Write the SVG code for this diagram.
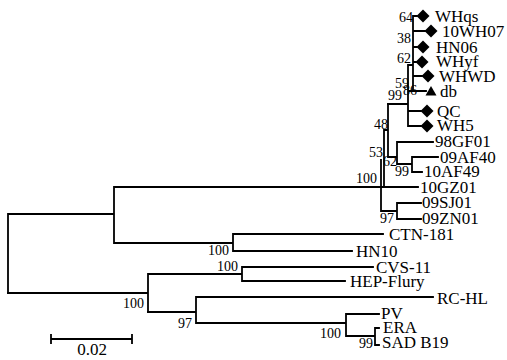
<svg xmlns="http://www.w3.org/2000/svg" width="507" height="360" viewBox="0 0 507 360">
<style>
.e{stroke:#000;stroke-width:1.8;fill:none;stroke-linecap:square}
.t{font-family:"Liberation Serif",serif;font-size:17px;fill:#000}
.b{font-family:"Liberation Serif",serif;font-size:14px;fill:#000}
.m{fill:#000}
</style>
<defs>
<path id="dia" d="M0,-6.5 L6.5,0 L0,6.5 L-6.5,0Z"/>
<path id="tri" d="M0,-5 L5.5,4.5 L-5.5,4.5Z"/>
</defs>
<rect width="507" height="360" fill="#fff"/>
<g id="connectors" class="e">
<path d="M8,214 V293 M8,214 H114 M114,187 V243 M114,187 H381 M114,243 H233 M233,234 V251 M233,234 H383 M233,251 H352"/>
<path d="M8,293 H148 M148,274 V312 M148,274 H242 M242,267 V281 M242,267 H373 M242,281 H345"/>
<path d="M148,312 H196 M196,297 V323 M196,297 H433 M196,323 H346 M346,314 V336 M346,314 H379 M346,336 H375 M375,328 V345 M375,328 H379 M375,345 H379"/>
<path d="M381,160 V211 M381,211 H397 M397,203 V219 M397,203 H421 M397,219 H421 M381,187 H418"/>
<path d="M384,130 V187 M384,130 H388 M388,104 V157 M388,157 H397 M397,142 V164 M397,142 H433 M397,164 H412 M412,157 V172 M412,157 H438 M412,172 H422"/>
<path d="M388,104 H408 M408,65 V126 M408,65 H413 M413,20 V90 M413,16 V20 M413,16 H417 M413,31 H425 M413,47 H417 M413,62 H416 M413,76 H422 M408,91 H426 M408,111 H421 M408,126 H421"/>
<path d="M51,339 H132 M51,335 V343 M132,335 V343"/>
</g>
<g id="support" class="b">
<text x="399" y="22">64</text>
<text x="397" y="43">38</text>
<text x="397" y="63">62</text>
<text x="395" y="88">59</text>
<text x="403" y="95">86</text>
<text x="388" y="100">99</text>
<text x="374" y="129">48</text>
<text x="369" y="157">53</text>
<text x="383" y="166">62</text>
<text x="395" y="176">99</text>
<text x="356" y="183">100</text>
<text x="380" y="223">97</text>
<text x="208" y="255">100</text>
<text x="217" y="271">100</text>
<text x="123" y="308">100</text>
<text x="178" y="328">97</text>
<text x="320" y="338">100</text>
<text x="359" y="348">99</text>
</g>
<g id="n-WHqs"><use href="#dia" x="423" y="16" class="m"/><text class="t" x="435" y="22">WHqs</text></g>
<g id="n-10WH07"><use href="#dia" x="431" y="31" class="m"/><text class="t" x="442" y="37">10WH07</text></g>
<g id="n-HN06"><use href="#dia" x="423" y="47" class="m"/><text class="t" x="436" y="53">HN06</text></g>
<g id="n-WHyf"><use href="#dia" x="422" y="62" class="m"/><text class="t" x="436" y="67">WHyf</text></g>
<g id="n-WHWD"><use href="#dia" x="428" y="76" class="m"/><text class="t" x="439" y="82">WHWD</text></g>
<g id="n-db"><use href="#tri" x="431" y="91" class="m"/><text class="t" x="440" y="97">db</text></g>
<g id="n-QC"><use href="#dia" x="427" y="111" class="m"/><text class="t" x="437" y="117">QC</text></g>
<g id="n-WH5"><use href="#dia" x="427" y="126" class="m"/><text class="t" x="437" y="131">WH5</text></g>
<g id="n-98GF01"><text class="t" x="435" y="147">98GF01</text></g>
<g id="n-09AF40"><text class="t" x="440" y="163">09AF40</text></g>
<g id="n-10AF49"><text class="t" x="424" y="177">10AF49</text></g>
<g id="n-10GZ01"><text class="t" x="420" y="193">10GZ01</text></g>
<g id="n-09SJ01"><text class="t" x="422" y="208">09SJ01</text></g>
<g id="n-09ZN01"><text class="t" x="422" y="224">09ZN01</text></g>
<g id="n-CTN-181"><text class="t" x="389" y="240">CTN-181</text></g>
<g id="n-HN10"><text class="t" x="356" y="257">HN10</text></g>
<g id="n-CVS-11"><text class="t" x="376" y="273">CVS-11</text></g>
<g id="n-HEP-Flury"><text class="t" x="350" y="287">HEP-Flury</text></g>
<g id="n-RC-HL"><text class="t" x="437" y="304">RC-HL</text></g>
<g id="n-PV"><text class="t" x="381" y="319">PV</text></g>
<g id="n-ERA"><text class="t" x="383" y="333">ERA</text></g>
<g id="n-SAD-B19"><text class="t" x="382" y="348">SAD B19</text></g>
<g id="scale"><text class="t" x="92" y="355" text-anchor="middle">0.02</text></g>
</svg>
